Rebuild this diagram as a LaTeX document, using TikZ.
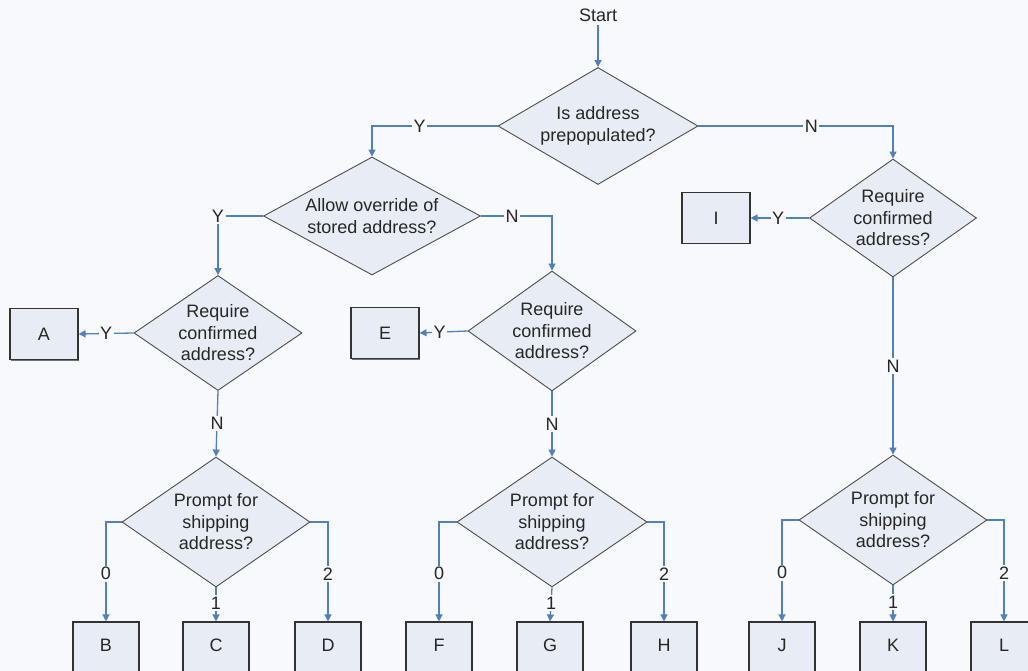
\documentclass[tikz,border=0pt]{standalone}
\usepackage{fontspec}
\setmainfont{Liberation Sans}
\usetikzlibrary{shapes.geometric,arrows.meta,shadows}
\definecolor{bg}{HTML}{F8F9FD}
\definecolor{shapefill}{HTML}{E8EDF5}
\definecolor{linkblue}{HTML}{4F81BD}
\definecolor{edgegray}{HTML}{4D4D4D}
\begin{document}
\begin{tikzpicture}[x=1pt,y=-1pt,
  every node/.style={font=\fontsize{18}{21.5}\selectfont, text=black!85},
  dia/.style={diamond, draw=edgegray, fill=shapefill, line width=0.9pt, inner sep=0pt},
  diatext/.style={align=center, inner sep=0pt},
  box/.style={rectangle, draw=black!80, fill=shapefill, line width=1.1pt,
    minimum width=68pt, minimum height=51pt, inner sep=0pt,
    drop shadow={shadow xshift=1pt, shadow yshift=-1pt, fill=black!55, opacity=1}},
  lowbox/.style={box, minimum width=66pt, minimum height=62pt, text depth=16pt},
  link/.style={draw=linkblue, line width=1.3pt, -{Triangle[length=7pt,width=7pt]}},
  lab/.style={fill=bg, inner sep=1.5pt}]
\clip (0,0) rectangle (1028,671);
\fill[bg] (0,0) rectangle (1028,671);

% decisions
\node (start) at (598,15) {Start};
\node[dia, minimum width=200pt, minimum height=117pt] (d1) at (598,126) {};
\node[diatext] (t1) at (d1) {Is address\\prepopulated?};
\node[dia, minimum width=217pt, minimum height=118pt] (d2) at (372,216) {};
\node[diatext] (t2) at (d2) {Allow override of\\stored address?};
\node[dia, minimum width=167pt, minimum height=118pt] (d3) at (893,218) {};
\node[diatext] (t3) at (d3) {Require\\confirmed\\address?};
\node[dia, minimum width=168pt, minimum height=115pt] (d4) at (218,333) {};
\node[diatext] (t4) at (d4) {Require\\confirmed\\address?};
\node[dia, minimum width=168pt, minimum height=120pt] (d5) at (552,331) {};
\node[diatext] (t5) at (d5) {Require\\confirmed\\address?};
\node[dia, minimum width=188pt, minimum height=130pt] (d6) at (216,522) {};
\node[diatext] (t6) at (d6) {Prompt for\\shipping\\address?};
\node[dia, minimum width=190pt, minimum height=130pt] (d7) at (552,522) {};
\node[diatext] (t7) at (d7) {Prompt for\\shipping\\address?};
\node[dia, minimum width=188pt, minimum height=130pt] (d8) at (893,520) {};
\node[diatext] (t8) at (d8) {Prompt for\\shipping\\address?};

% outcome boxes
\node[box] (A) at (44,334) {A};
\node[box] (E) at (385,333) {E};
\node[box] (I) at (716,218) {I};
\node[lowbox] (B) at (106,653) {B};
\node[lowbox] (C) at (216,653) {C};
\node[lowbox] (D) at (328,653) {D};
\node[lowbox] (F) at (439,653) {F};
\node[lowbox] (G) at (550,653) {G};
\node[lowbox] (H) at (664,653) {H};
\node[lowbox] (J) at (782,653) {J};
\node[lowbox] (K) at (893,653) {K};
\node[lowbox] (L) at (1004,653) {L};

% connectors
\draw[link] (start) -- (d1.north);
\draw[link] (d1.west) -| node[lab,pos=0.31]{Y} (d2.north);
\draw[link] (d1.east) -| node[lab,pos=0.29]{N} (d3.north);
\draw[link] (d2.west) -| node[lab,pos=0.5]{Y} (d4.north);
\draw[link] (d2.east) -| node[lab,pos=0.22]{N} (d5.north);
\draw[link] (d3.west) -- node[lab,pos=0.53]{Y} (I.east);
\draw[link] (d4.west) -- node[lab,pos=0.5]{Y} (A.east);
\draw[link] (d5.west) -- node[lab,pos=0.58]{Y} (E.east);
\draw[link] (d4.south) -- node[lab,pos=0.5]{N} (d6.north);
\draw[link] (d5.south) -- node[lab,pos=0.5]{N} (d7.north);
\draw[link] (d3.south) -- node[lab,pos=0.5]{N} (d8.north);

\draw[link] (d6.west) -| node[lab,pos=0.76]{0} (B.north);
\draw[link] (d6.south) -- node[lab,pos=0.46]{1} (C.north);
\draw[link] (d6.east) -| node[lab,pos=0.76]{2} (D.north);
\draw[link] (d7.west) -| node[lab,pos=0.76]{0} (F.north);
\draw[link] (d7.south) -- node[lab,pos=0.46]{1} (G.north);
\draw[link] (d7.east) -| node[lab,pos=0.76]{2} (H.north);
\draw[link] (d8.west) -| node[lab,pos=0.76]{0} (J.north);
\draw[link] (d8.south) -- node[lab,pos=0.46]{1} (K.north);
\draw[link] (d8.east) -| node[lab,pos=0.76]{2} (L.north);
\end{tikzpicture}
\end{document}
